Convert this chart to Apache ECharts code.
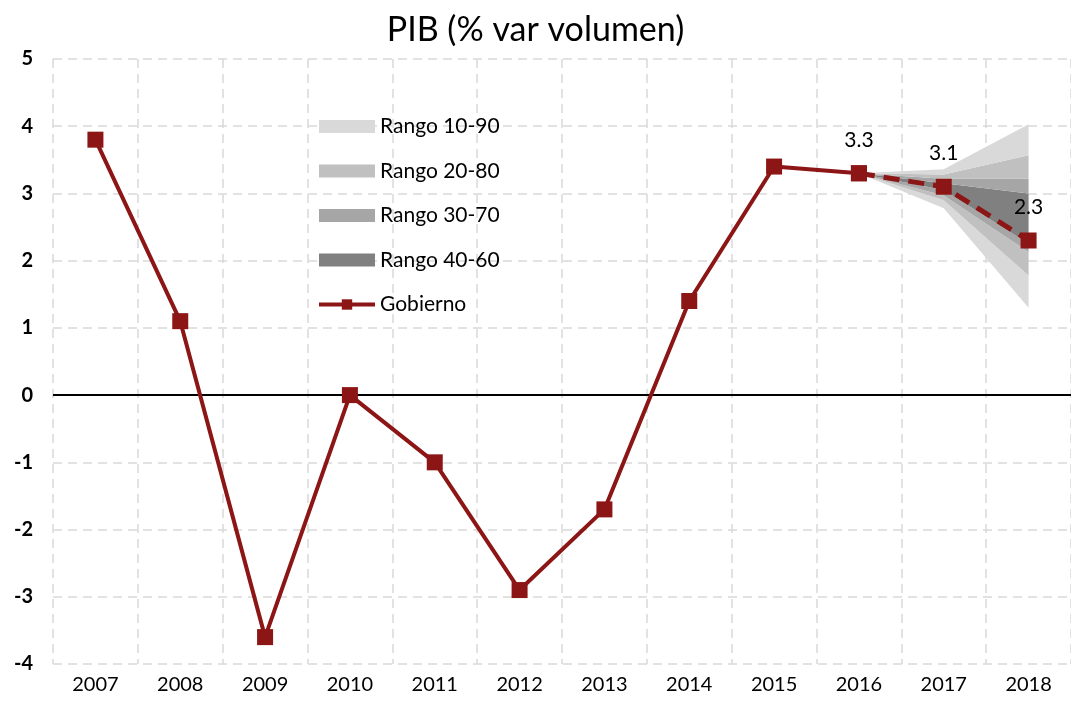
<!DOCTYPE html>
<html>
<head>
<meta charset="utf-8">
<script src="https://cdn.jsdelivr.net/npm/echarts@6/dist/echarts.min.js"></script>
<style>
  html, body { margin: 0; padding: 0; background: #fff; }
  #chart { width: 1071px; height: 703px; }
</style>
</head>
<body>
<div id="chart"></div>
<script>
// años y serie del gobierno
const years = ['2007', '2008', '2009', '2010', '2011', '2012', '2013', '2014', '2015', '2016', '2017', '2018'];
const gobierno = [3.8, 1.1, -3.6, 0.0, -1.0, -2.9, -1.7, 1.4, 3.4, 3.3, '-', '-'];
const proyeccion = ['-', '-', '-', '-', '-', '-', '-', '-', '-', 3.3, 3.1, 2.3];

// percentiles del abanico (2016, 2017, 2018)
const p10 = [3.3, 2.78, 1.3];
const p20 = [3.3, 2.9, 1.78];
const p30 = [3.3, 2.97, 2.13];
const p40 = [3.3, 3.05, 2.25];
const p60 = [3.3, 3.15, 3.0];
const p70 = [3.3, 3.22, 3.22];
const p80 = [3.3, 3.28, 3.57];
const p90 = [3.3, 3.36, 4.03];

const yTicks = { min: -4, max: 5, interval: 1 };

const bandColors = {
  'Rango 10-90': '#d9d9d9',
  'Rango 20-80': '#c0c0c0',
  'Rango 30-70': '#a6a6a6',
  'Rango 40-60': '#808080'
};
const red = '#8c1515';
const font = 'Lato, "Open Sans", sans-serif';

const pad = arr => Array(years.length - arr.length).fill('-').concat(arr);
const diff = (hi, lo) => pad(hi.map((v, i) => +(v - lo[i]).toFixed(3)));

const bandSeries = (name, data) => ({
  name: name,
  type: 'line',
  stack: 'fan',
  data: data,
  symbol: 'none',
  silent: true,
  lineStyle: { width: 0 },
  itemStyle: { color: bandColors[name] },
  areaStyle: { color: bandColors[name], opacity: 1 },
  z: 1
});

const chart = echarts.init(document.getElementById('chart'));

chart.setOption({
  animation: false,
  backgroundColor: '#fff',
  title: {
    text: 'PIB (% var volumen)',
    left: 'center',
    top: 8,
    textStyle: { fontFamily: font, fontSize: 34, fontWeight: 'normal', color: '#000' }
  },
  legend: {
    orient: 'vertical',
    left: 312,
    top: 111,
    itemWidth: 56,
    itemHeight: 13,
    itemGap: 23.5,
    textStyle: { fontFamily: font, fontSize: 21, color: '#000' },
    data: [
      { name: 'Rango 10-90', icon: 'rect', itemStyle: { color: bandColors['Rango 10-90'] } },
      { name: 'Rango 20-80', icon: 'rect', itemStyle: { color: bandColors['Rango 20-80'] } },
      { name: 'Rango 30-70', icon: 'rect', itemStyle: { color: bandColors['Rango 30-70'] } },
      { name: 'Rango 40-60', icon: 'rect', itemStyle: { color: bandColors['Rango 40-60'] } },
      { name: 'Gobierno', lineStyle: { width: 4, color: red }, itemStyle: { color: red } }
    ]
  },
  grid: { left: 53, right: -2, top: 59, bottom: 39, containLabel: false },
  xAxis: {
    type: 'category',
    data: years,
    boundaryGap: true,
    axisLine: { show: false },
    axisTick: { show: false },
    axisLabel: { fontFamily: font, fontSize: 20, color: '#000', margin: 11 },
    splitLine: { show: true, lineStyle: { color: '#d9d9d9', type: [9, 6], width: 1.5 } }
  },
  yAxis: {
    type: 'value',
    min: yTicks.min,
    max: yTicks.max,
    interval: yTicks.interval,
    axisLine: { show: false },
    axisTick: { show: false },
    axisLabel: { fontFamily: font, fontSize: 20, fontWeight: 'bold', color: '#000', margin: 20 },
    splitLine: { show: true, lineStyle: { color: '#d9d9d9', type: [9, 6], width: 1.5 } }
  },
  series: [
    {
      name: 'base',
      type: 'line',
      stack: 'fan',
      data: pad(p10),
      symbol: 'none',
      silent: true,
      lineStyle: { width: 0 },
      z: 1
    },
    bandSeries('Rango 10-90', diff(p20, p10)),
    bandSeries('Rango 20-80', diff(p30, p20)),
    bandSeries('Rango 30-70', diff(p40, p30)),
    bandSeries('Rango 40-60', diff(p60, p40)),
    bandSeries('Rango 30-70', diff(p70, p60)),
    bandSeries('Rango 20-80', diff(p80, p70)),
    bandSeries('Rango 10-90', diff(p90, p80)),
    {
      name: 'Gobierno',
      type: 'line',
      data: gobierno,
      symbol: 'rect',
      symbolSize: 16,
      lineStyle: { color: red, width: 4 },
      itemStyle: { color: red },
      z: 5,
      markLine: {
        silent: true,
        symbol: 'none',
        label: { show: false },
        lineStyle: { color: '#000', type: 'solid', width: 1.8 },
        data: [{ yAxis: 0 }]
      }
    },
    {
      name: 'Gobierno proyección',
      type: 'line',
      data: proyeccion,
      symbol: 'rect',
      symbolSize: 16,
      lineStyle: { color: red, width: 5, type: [16, 9] },
      itemStyle: { color: red },
      z: 6,
      label: {
        show: true,
        position: 'top',
        distance: 15,
        fontFamily: font,
        fontSize: 21,
        color: '#000',
        formatter: p => p.value.toFixed(1)
      }
    }
  ]
});
</script>
</body>
</html>
